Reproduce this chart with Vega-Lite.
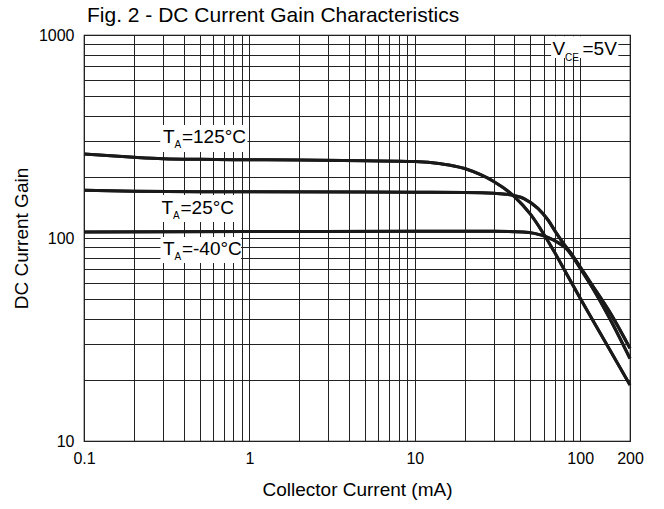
{
  "$schema": "https://vega.github.io/schema/vega-lite/v6.json",
  "width": 546,
  "height": 406,
  "autosize": {"type": "none"},
  "padding": {"left": 84, "top": 35, "right": 34, "bottom": 68},
  "title": {"text": "Fig. 2 - DC Current Gain Characteristics", "anchor": "start", "frame": "group", "fontSize": 21, "font": "Liberation Sans", "fontWeight": "normal", "color": "#000", "baseline": "alphabetic", "offset": 12, "dx": 3, "dy": 28},
  "config": {
    "font": "Liberation Sans",
    "view": {"stroke": "#000", "strokeWidth": 1.2},
    "axis": {"grid": true, "gridColor": "#222", "gridOpacity": 1, "gridWidth": 1, "domain": false, "ticks": false, "tickSize": 0, "labelFontSize": 16, "labelColor": "#000", "titleFontSize": 19, "titleFontWeight": "normal", "titleColor": "#000", "labelOverlap": false, "labelBound": false, "labelFlush": false, "format": "~g"}
  },
  "datasets": {
    "curves": [
      {"I": 0.1, "gain": 259, "T": "125°C"},
      {"I": 0.2, "gain": 250, "T": "125°C"},
      {"I": 0.3, "gain": 246, "T": "125°C"},
      {"I": 0.5, "gain": 244, "T": "125°C"},
      {"I": 1, "gain": 243, "T": "125°C"},
      {"I": 2, "gain": 242, "T": "125°C"},
      {"I": 5, "gain": 240, "T": "125°C"},
      {"I": 10, "gain": 238, "T": "125°C"},
      {"I": 14.4, "gain": 232, "T": "125°C"},
      {"I": 20, "gain": 220, "T": "125°C"},
      {"I": 25, "gain": 205, "T": "125°C"},
      {"I": 30, "gain": 190, "T": "125°C"},
      {"I": 40, "gain": 160, "T": "125°C"},
      {"I": 50, "gain": 131, "T": "125°C"},
      {"I": 60, "gain": 105, "T": "125°C"},
      {"I": 70, "gain": 85, "T": "125°C"},
      {"I": 80, "gain": 70, "T": "125°C"},
      {"I": 100, "gain": 50.5, "T": "125°C"},
      {"I": 150, "gain": 28.4, "T": "125°C"},
      {"I": 200, "gain": 18.9, "T": "125°C"},
      {"I": 0.1, "gain": 172, "T": "25°C"},
      {"I": 0.2, "gain": 170, "T": "25°C"},
      {"I": 0.5, "gain": 169, "T": "25°C"},
      {"I": 1, "gain": 169, "T": "25°C"},
      {"I": 10, "gain": 168, "T": "25°C"},
      {"I": 20, "gain": 167.5, "T": "25°C"},
      {"I": 30, "gain": 166, "T": "25°C"},
      {"I": 36.5, "gain": 164, "T": "25°C"},
      {"I": 46, "gain": 156, "T": "25°C"},
      {"I": 55.5, "gain": 140, "T": "25°C"},
      {"I": 63.7, "gain": 123, "T": "25°C"},
      {"I": 71.6, "gain": 106, "T": "25°C"},
      {"I": 80, "gain": 93, "T": "25°C"},
      {"I": 90, "gain": 82, "T": "25°C"},
      {"I": 100, "gain": 72, "T": "25°C"},
      {"I": 120, "gain": 57.5, "T": "25°C"},
      {"I": 150, "gain": 43.5, "T": "25°C"},
      {"I": 200, "gain": 28.6, "T": "25°C"},
      {"I": 0.1, "gain": 107, "T": "-40°C"},
      {"I": 1, "gain": 107.5, "T": "-40°C"},
      {"I": 10, "gain": 108, "T": "-40°C"},
      {"I": 30, "gain": 108, "T": "-40°C"},
      {"I": 45, "gain": 107, "T": "-40°C"},
      {"I": 52.8, "gain": 105.4, "T": "-40°C"},
      {"I": 63.7, "gain": 100.7, "T": "-40°C"},
      {"I": 73.3, "gain": 95, "T": "-40°C"},
      {"I": 82, "gain": 89, "T": "-40°C"},
      {"I": 90, "gain": 81, "T": "-40°C"},
      {"I": 100, "gain": 71, "T": "-40°C"},
      {"I": 120, "gain": 56, "T": "-40°C"},
      {"I": 150, "gain": 40.5, "T": "-40°C"},
      {"I": 200, "gain": 25.5, "T": "-40°C"}
    ],
    "boxes": [
      {"x1": 0.289, "x2": 0.973, "y1": 265, "y2": 360},
      {"x1": 0.29, "x2": 0.81, "y1": 120, "y2": 163},
      {"x1": 0.29, "x2": 0.89, "y1": 75.3, "y2": 101},
      {"x1": 66.7, "x2": 170, "y1": 770, "y2": 985}
    ],
    "tlabels": [
      {"x": 0.3, "y": 295, "main": "T", "sub": "A", "rest": "=125°C"},
      {"x": 0.294, "y": 132, "main": "T", "sub": "A", "rest": "=25°C"},
      {"x": 0.3, "y": 82.5, "main": "T", "sub": "A", "rest": "=-40°C"}
    ],
    "vlabel": [
      {"x": 68, "y": 797, "main": "V", "sub": "CE", "rest": "=5V"}
    ]
  },
  "layer": [
    {
      "data": {"name": "curves"},
      "mark": {"type": "line", "color": "#1a1a1a", "strokeWidth": 3, "interpolate": "monotone"},
      "encoding": {
        "x": {"field": "I", "type": "quantitative", "scale": {"type": "log", "domain": [0.1, 200], "nice": false},
          "axis": {"title": "Collector Current (mA)", "values": [0.1,0.2,0.3,0.4,0.5,0.6,0.7,0.8,0.9,1,2,3,4,5,6,7,8,9,10,20,30,40,50,60,70,80,90,100,200], "labelExpr": "indexof([0.1,1,10,100,200], datum.value) >= 0 ? datum.label : ''", "labelPadding": 9, "titlePadding": 14}},
        "y": {"field": "gain", "type": "quantitative", "scale": {"type": "log", "domain": [10, 1000], "nice": false},
          "axis": {"title": "DC Current Gain", "values": [10,20,30,40,50,60,70,80,90,100,200,300,400,500,600,700,800,900,1000], "labelExpr": "indexof([10,100,1000], datum.value) >= 0 ? datum.label : ''", "labelPadding": 10, "titlePadding": 7}},
        "detail": {"field": "T", "type": "nominal"}
      }
    },
    {
      "data": {"name": "boxes"},
      "mark": {"type": "rect", "fill": "#fff", "stroke": null},
      "encoding": {
        "x": {"field": "x1", "type": "quantitative", "title": "Collector Current (mA)"},
        "x2": {"field": "x2"},
        "y": {"field": "y1", "type": "quantitative", "title": "DC Current Gain"},
        "y2": {"field": "y2"}
      }
    },
    {
      "data": {"name": "curves"},
      "mark": {"type": "line", "color": "#1a1a1a", "strokeWidth": 3, "interpolate": "monotone"},
      "encoding": {
        "x": {"field": "I", "type": "quantitative", "title": "Collector Current (mA)"},
        "y": {"field": "gain", "type": "quantitative", "title": "DC Current Gain"},
        "detail": {"field": "T", "type": "nominal"}
      }
    },
    {
      "data": {"name": "tlabels"},
      "mark": {"type": "text", "align": "left", "baseline": "alphabetic", "fontSize": 19, "color": "#000"},
      "encoding": {
        "x": {"field": "x", "type": "quantitative", "title": "Collector Current (mA)"},
        "y": {"field": "y", "type": "quantitative", "title": "DC Current Gain"},
        "text": {"field": "main"}
      }
    },
    {
      "data": {"name": "tlabels"},
      "mark": {"type": "text", "align": "left", "baseline": "alphabetic", "fontSize": 10, "dx": 11.5, "dy": 5.5, "color": "#000"},
      "encoding": {
        "x": {"field": "x", "type": "quantitative", "title": "Collector Current (mA)"},
        "y": {"field": "y", "type": "quantitative", "title": "DC Current Gain"},
        "text": {"field": "sub"}
      }
    },
    {
      "data": {"name": "tlabels"},
      "mark": {"type": "text", "align": "left", "baseline": "alphabetic", "fontSize": 19, "dx": 19, "color": "#000"},
      "encoding": {
        "x": {"field": "x", "type": "quantitative", "title": "Collector Current (mA)"},
        "y": {"field": "y", "type": "quantitative", "title": "DC Current Gain"},
        "text": {"field": "rest"}
      }
    },
    {
      "data": {"name": "vlabel"},
      "mark": {"type": "text", "align": "left", "baseline": "alphabetic", "fontSize": 19, "color": "#000"},
      "encoding": {
        "x": {"field": "x", "type": "quantitative", "title": "Collector Current (mA)"},
        "y": {"field": "y", "type": "quantitative", "title": "DC Current Gain"},
        "text": {"field": "main"}
      }
    },
    {
      "data": {"name": "vlabel"},
      "mark": {"type": "text", "align": "left", "baseline": "alphabetic", "fontSize": 10, "dx": 12.5, "dy": 6, "color": "#000"},
      "encoding": {
        "x": {"field": "x", "type": "quantitative", "title": "Collector Current (mA)"},
        "y": {"field": "y", "type": "quantitative", "title": "DC Current Gain"},
        "text": {"field": "sub"}
      }
    },
    {
      "data": {"name": "vlabel"},
      "mark": {"type": "text", "align": "left", "baseline": "alphabetic", "fontSize": 19, "dx": 30, "color": "#000"},
      "encoding": {
        "x": {"field": "x", "type": "quantitative", "title": "Collector Current (mA)"},
        "y": {"field": "y", "type": "quantitative", "title": "DC Current Gain"},
        "text": {"field": "rest"}
      }
    }
  ]
}
